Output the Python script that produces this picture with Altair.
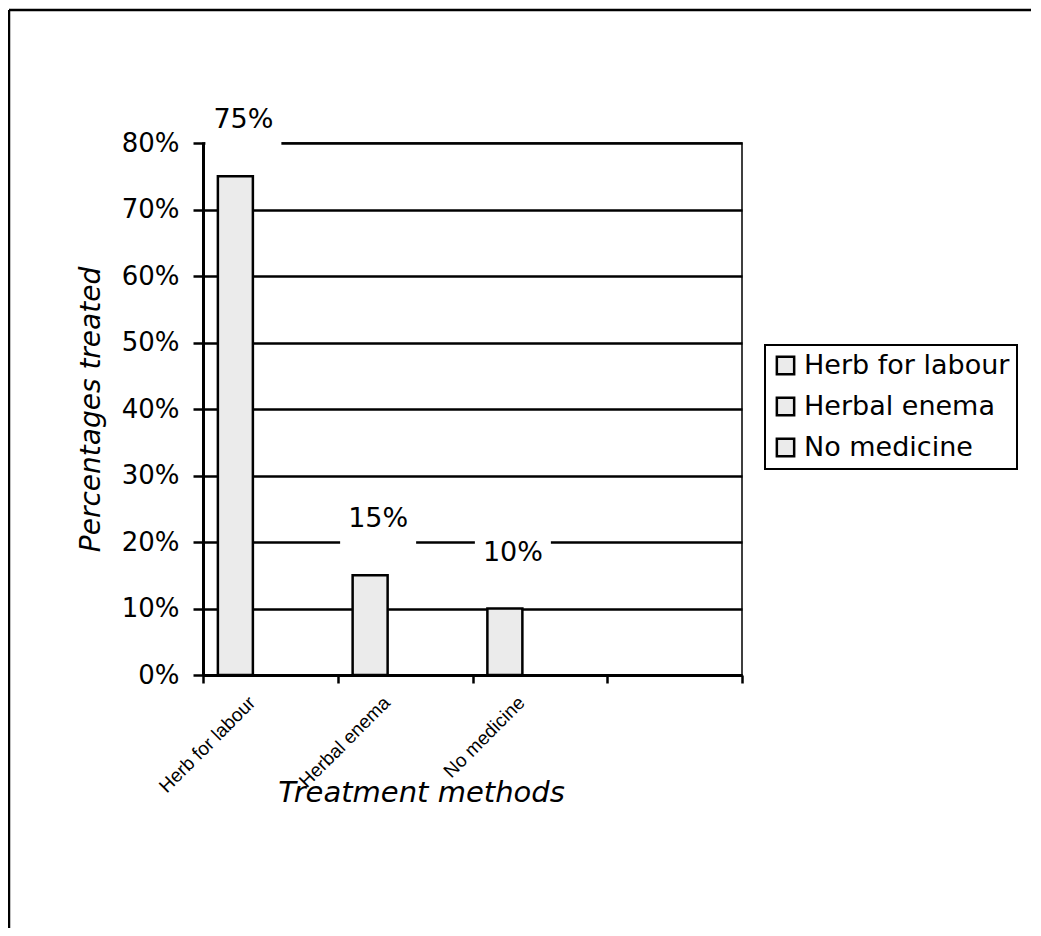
import altair as alt
import pandas as pd

# ---- data ----
categories = ["Herb for labour", "Herbal enema", "No medicine"]
values = [0.75, 0.15, 0.10]
value_labels = ["75%", "15%", "10%"]
axis_slots = categories + [" "]          # Excel left an empty fourth slot
y_ticks = [0, 0.1, 0.2, 0.3, 0.4, 0.5, 0.6, 0.7, 0.8]

df = pd.DataFrame({"method": categories, "share": values, "label": value_labels})
frame_df = pd.DataFrame({"k": [0]})

FONT = "DejaVu Sans"
W, H = 539, 532

x_enc = alt.X(
    "method:N",
    sort=axis_slots,
    scale=alt.Scale(domain=axis_slots, paddingInner=0, paddingOuter=0),
    axis=alt.Axis(
        title="Treatment methods",
        titleFont=FONT, titleFontSize=29, titleFontStyle="italic", titleFontWeight="normal",
        titleColor="black", titleX=218, titleY=117, titleAlign="center", titleBaseline="middle",
        tickBand="extent", ticks=True, tickSize=8, tickColor="black", tickWidth=2.5,
        labelAngle=-45, labelAlign="right", labelBaseline="top", labelOffset=-25,
        labelPadding=10, labelFont="Liberation Sans", labelFontSize=19, labelColor="black",
        domainColor="black", domainWidth=3, grid=False,
    ),
)

y_enc = alt.Y(
    "share:Q",
    scale=alt.Scale(domain=[0, 0.8], nice=False),
    axis=alt.Axis(
        title="Percentages treated", values=y_ticks, format=".0%",
        titleFont=FONT, titleFontSize=28, titleFontStyle="italic", titleFontWeight="normal",
        titleColor="black", titleX=-112, titleY=H / 2, titleAngle=-90,
        titleAlign="center", titleBaseline="middle",
        grid=True, gridColor="black", gridWidth=2.5, gridOpacity=1,
        tickSize=10, tickColor="black", tickWidth=2.5,
        labelFont=FONT, labelFontSize=26, labelColor="black", labelPadding=14,
        domainColor="black", domainWidth=3,
    ),
)

bars = alt.Chart(df).mark_bar(
    width=35, xOffset=-35, stroke="black", strokeWidth=2.5
).encode(
    x=x_enc,
    y=y_enc,
    color=alt.Color(
        "method:N",
        scale=alt.Scale(domain=categories, range=["#ebebeb", "#ebebeb", "#ebebeb"]),
        legend=alt.Legend(
            title=None, orient="none", legendX=562, legendY=202,
            labelFont=FONT, labelFontSize=27, labelColor="black", labelLimit=400,
            symbolType="square", symbolSize=300, symbolStrokeColor="black",
            symbolStrokeWidth=2.5, rowPadding=12, padding=7, labelOffset=5,
            strokeColor="black", fillColor="white",
        ),
    ),
)

label_box = alt.Chart(df).mark_point(
    shape="M-1,-0.75L1,-0.75L1,0.75L-1,0.75Z", size=76 * 76, filled=True,
    fill="white", opacity=1, strokeWidth=0, xOffset=-27, yOffset=-56,
).encode(x=alt.X("method:N", sort=axis_slots), y="share:Q")

labels = alt.Chart(df).mark_text(
    font=FONT, fontSize=27, color="black", xOffset=-27, yOffset=-56, baseline="middle"
).encode(x=alt.X("method:N", sort=axis_slots), y="share:Q", text="label:N")

frame_left = alt.Chart(frame_df).mark_rule(color="black", strokeWidth=2.5).encode(
    x=alt.value(-194), y=alt.value(-133), y2=alt.value(800)
)
frame_top = alt.Chart(frame_df).mark_rule(color="black", strokeWidth=2.5).encode(
    x=alt.value(-194), x2=alt.value(828), y=alt.value(-133)
)

chart = alt.layer(bars, label_box, labels, frame_left, frame_top).properties(
    width=W, height=H,
    autosize=alt.AutoSizeParams(type="none"),
    padding={"left": 195, "top": 135, "right": 291, "bottom": 253},
    background="white",
).configure_view(stroke="black", strokeWidth=1.5).configure_legend(strokeWidth=2)

chart.save("out.html", embed_options={"renderer": "svg", "actions": False})
